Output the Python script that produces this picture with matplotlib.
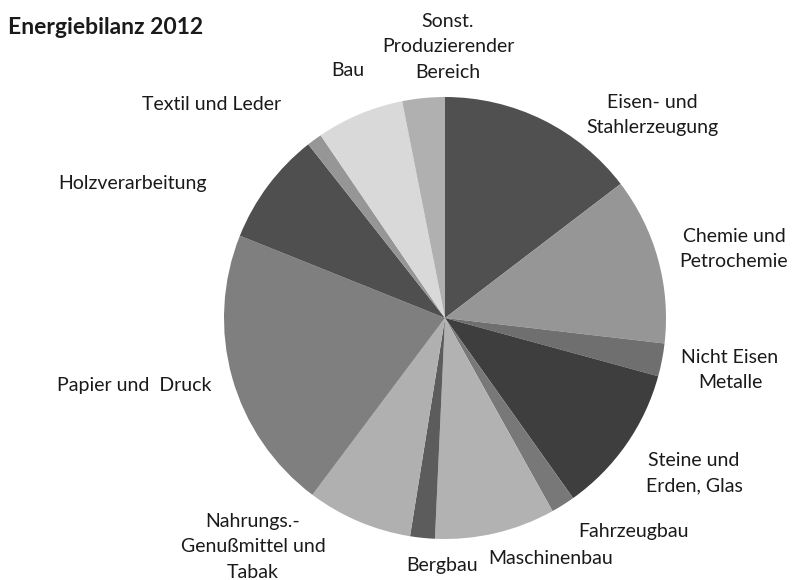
import matplotlib
matplotlib.use('agg')
import matplotlib.pyplot as plt

plt.rcParams['font.family'] = ['Lato', 'DejaVu Sans']

# Energieverbrauch nach Branchen, Anteile in %
branchen = ['Eisen- und\nStahlerzeugung', 'Chemie und\nPetrochemie', 'Nicht Eisen\nMetalle',
            'Steine und\nErden, Glas', 'Fahrzeugbau', 'Maschinenbau', 'Bergbau',
            'Nahrungs.-\nGenußmittel und\nTabak', 'Papier und  Druck', 'Holzverarbeitung',
            'Textil und Leder', 'Bau', 'Sonst.\nProduzierender\nBereich']
anteile = [14.6, 12.2, 2.4, 10.9, 1.75, 8.8, 1.8, 7.7, 20.8, 8.3, 1.1, 6.4, 3.1]
farben = ['#505050', '#969696', '#6f6f6f', '#3e3e3e', '#787878', '#b2b2b2', '#5c5c5c',
          '#b0b0b0', '#7f7f7f', '#4f4f4f', '#969696', '#d9d9d9', '#b0b0b0']

# label anchor points in pixels (x, y from top)
label_px = [(652, 115), (734, 249), (730, 370), (694, 473), (634, 532), (551, 558), (442, 565),
            (253, 547), (134, 385), (133, 183), (212, 105), (348, 70), (448, 47)]

W, H = 792, 580
fig = plt.figure(figsize=(W / 100, H / 100), dpi=100)

cx, cy, r = 445, 318, 221
ax = fig.add_axes([(cx - r) / W, (H - cy - r) / H, 2 * r / W, 2 * r / H])
ax.pie(anteile, colors=farben, startangle=90, counterclock=False,
       wedgeprops=dict(linewidth=0))
ax.set_aspect('equal')
ax.set_xlim(-1, 1)
ax.set_ylim(-1, 1)
ax.axis('off')

for text, (x, y) in zip(branchen, label_px):
    fig.text(x / W, 1 - y / H, text, ha='center', va='center', fontsize=14,
             color='#1a1a1a', linespacing=1.62)

fig.text(8 / W, 1 - 27 / H, 'Energiebilanz 2012', ha='left', va='center',
         fontsize=16.5, fontweight='bold', color='#1a1a1a')

fig.savefig('out.png', dpi=100)
